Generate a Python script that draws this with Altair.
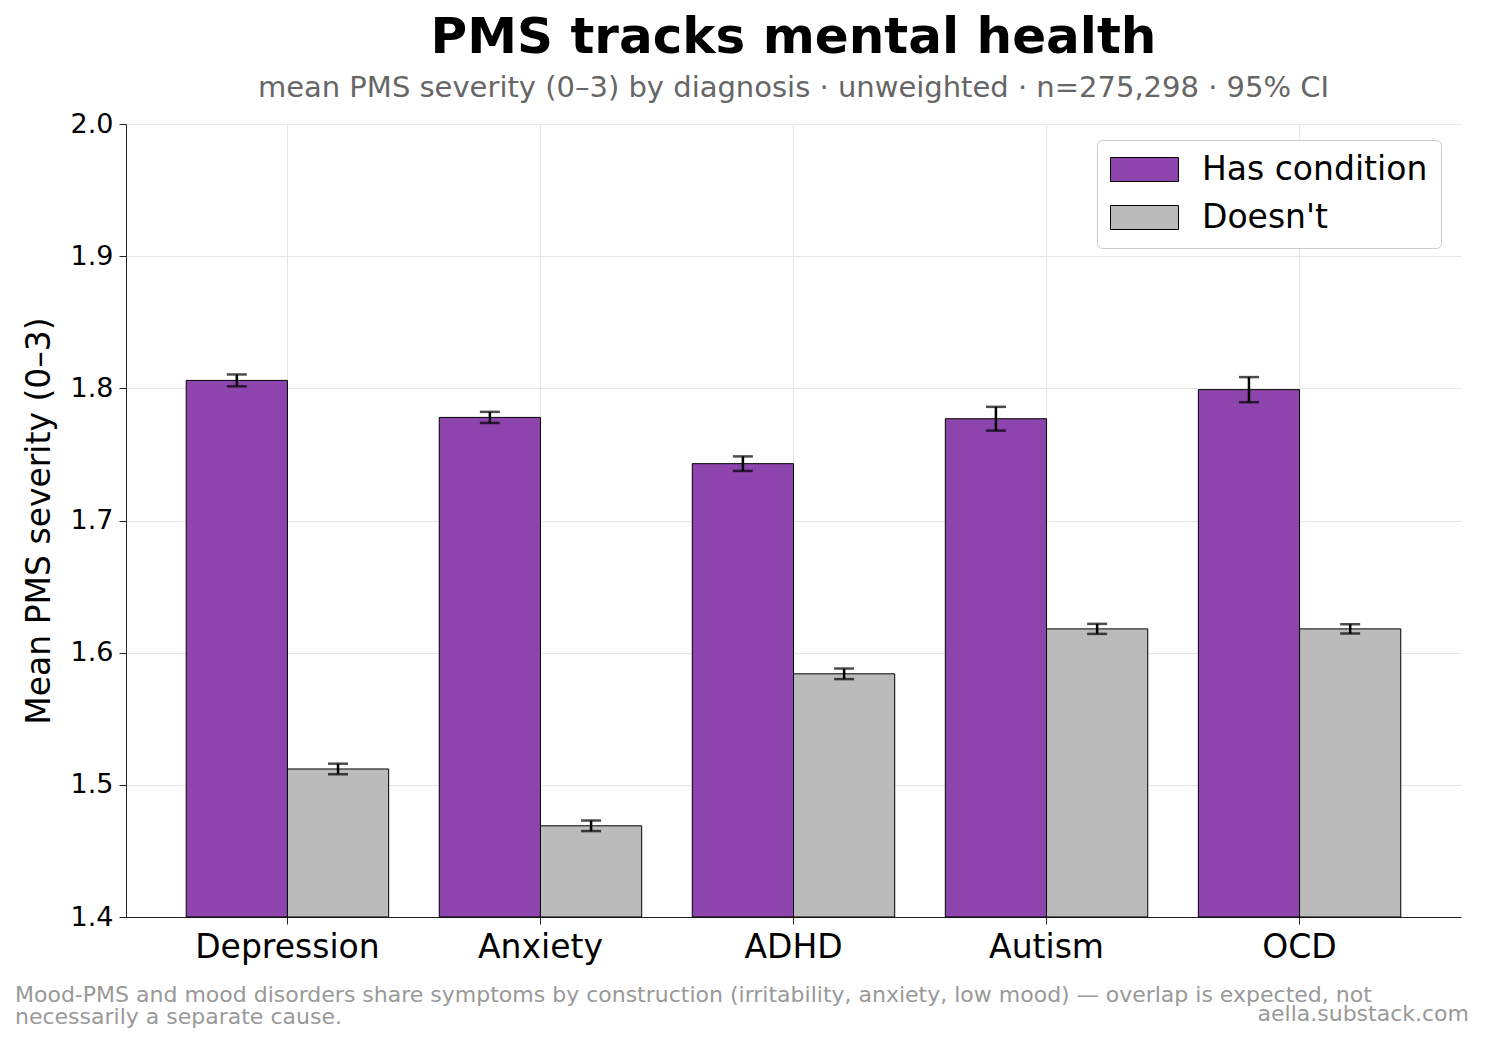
import altair as alt
import pandas as pd

# ---- data ----
categories = ["Depression", "Anxiety", "ADHD", "Autism", "OCD"]
groups = ["Has condition", "Doesn't"]
has_means = [1.806, 1.778, 1.743, 1.777, 1.799]
has_ci = [0.0045, 0.0042, 0.0055, 0.0090, 0.0095]
not_means = [1.512, 1.469, 1.584, 1.618, 1.618]
not_ci = [0.0040, 0.0040, 0.0040, 0.0038, 0.0035]
y_ticks = [1.4, 1.5, 1.6, 1.7, 1.8, 1.9, 2.0]
colors = ["#8e44ad", "#bbbbbb"]

title_text = "PMS tracks mental health"
subtitle_text = "mean PMS severity (0\u20133) by diagnosis \u00b7 unweighted \u00b7 n=275,298 \u00b7 95% CI"
y_title = "Mean PMS severity (0\u20133)"
foot_lines = [
    "Mood-PMS and mood disorders share symptoms by construction (irritability, anxiety, low mood) \u2014 overlap is expected, not",
    "necessarily a separate cause.",
]
credit = "aella.substack.com"

rows = []
for c, m, e in zip(categories, has_means, has_ci):
    rows.append({"cat": c, "group": groups[0], "mean": m, "lo": m - e, "hi": m + e})
for c, m, e in zip(categories, not_means, not_ci):
    rows.append({"cat": c, "group": groups[1], "mean": m, "lo": m - e, "hi": m + e})
df = pd.DataFrame(rows)

FONT = "DejaVu Sans"

x_enc = alt.X(
    "cat:N",
    sort=categories,
    scale=alt.Scale(paddingInner=0.2, paddingOuter=0.238),
    axis=alt.Axis(
        title=None, labelAngle=0, labelFontSize=33, labelColor="black", labelLimit=500,
        tickSize=7, tickColor="#222", domainColor="#222", labelPadding=7,
        grid=True, gridColor="#e6e6e6", bandPosition=0.5,
    ),
)
xo_enc = alt.XOffset("group:N", sort=groups, scale=alt.Scale(paddingInner=0, paddingOuter=0))
y_scale = alt.Scale(domain=[1.4, 2.0], zero=False, nice=False)

base = alt.Chart(df)

bars = base.mark_bar(stroke="black", strokeWidth=1).encode(
    x=x_enc,
    xOffset=xo_enc,
    y=alt.Y(
        "mean:Q",
        scale=y_scale,
        axis=alt.Axis(
            values=y_ticks, format=".1f", title=y_title, titleFontSize=33,
            titleFontWeight="normal", titleColor="black", titlePadding=14,
            labelFontSize=27, labelColor="black", tickSize=7, tickColor="#222",
            domainColor="#222", labelPadding=6, grid=True, gridColor="#e6e6e6",
        ),
    ),
    y2=alt.Y2(datum=1.4),
    fill=alt.Fill(
        "group:N",
        sort=groups,
        scale=alt.Scale(domain=groups, range=colors),
        legend=alt.Legend(
            title=None, orient="none", legendX=971, legendY=16,
            labelFontSize=33, labelColor="black", labelLimit=500,
            symbolType="M-2.833,-1L2.833,-1L2.833,1L-2.833,1Z",
            symbolSize=576, symbolStrokeColor="black", symbolStrokeWidth=1,
            symbolOpacity=1, symbolOffset=18, labelOffset=41, rowPadding=14,
            strokeColor="#cccccc", cornerRadius=5, padding=13, fillColor="white",
        ),
    ),
)

rules = base.mark_rule(color="black", strokeWidth=2.5).encode(
    x=alt.X("cat:N", sort=categories),
    xOffset=xo_enc,
    y=alt.Y("lo:Q", scale=y_scale),
    y2="hi:Q",
)
cap_lo = base.mark_tick(color="black", size=20, thickness=2.5, orient="horizontal").encode(
    x=alt.X("cat:N", sort=categories), xOffset=xo_enc, y=alt.Y("lo:Q", scale=y_scale)
)
cap_hi = base.mark_tick(color="black", size=20, thickness=2.5, orient="horizontal").encode(
    x=alt.X("cat:N", sort=categories), xOffset=xo_enc, y=alt.Y("hi:Q", scale=y_scale)
)

foot_df = pd.DataFrame({"t": ["\n".join(foot_lines)]})
foot = alt.Chart(foot_df).mark_text(
    align="left", baseline="alphabetic", fontSize=22, color="#999999",
    lineBreak="\n", lineHeight=22, font=FONT,
).encode(text="t:N", x=alt.value(-111), y=alt.value(878))

credit_df = pd.DataFrame({"t": [credit]})
cred = alt.Chart(credit_df).mark_text(
    align="right", baseline="alphabetic", fontSize=22, color="#999999", font=FONT,
).encode(text="t:N", x=alt.value(1343), y=alt.value(897))

chart = (
    alt.layer(bars, rules, cap_lo, cap_hi, foot, cred)
    .resolve_scale(y="shared")
    .properties(
        width=1335,
        height=793,
        padding={"left": 126, "top": 124, "right": 24, "bottom": 126},
        autosize=alt.AutoSizeParams(type="none"),
        title=alt.TitleParams(
            text=title_text, subtitle=subtitle_text, fontSize=50, fontWeight="bold",
            color="black", subtitleFontSize=29, subtitleColor="#666666",
            anchor="middle", offset=7, subtitlePadding=11, font=FONT, subtitleFont=FONT,
        ),
    )
    .configure(font=FONT, background="white")
    .configure_view(stroke=None)
)

chart.save("out.html", embed_options={"renderer": "svg", "actions": False})
